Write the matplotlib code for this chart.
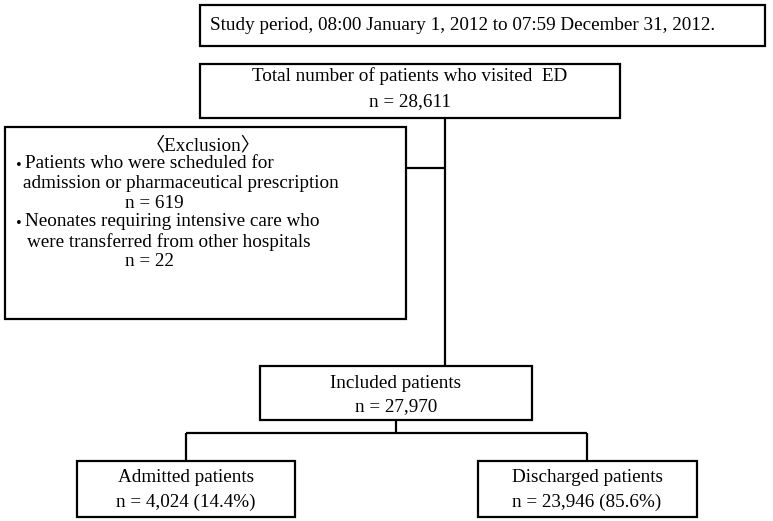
import matplotlib.pyplot as plt
from matplotlib.patches import Rectangle

plt.rcParams['font.family'] = ['Liberation Serif', 'Noto Sans CJK JP']

# text of the flowchart
study_text = 'Study period, 08:00 January 1, 2012 to 07:59 December 31, 2012.'
total_lines = ['Total number of patients who visited  ED', 'n = 28,611']
included_lines = ['Included patients', 'n = 27,970']
admitted_lines = ['Admitted patients', 'n = 4,024 (14.4%)']
discharged_lines = ['Discharged patients', 'n = 23,946 (85.6%)']
exclusion_title = '〈Exclusion〉'
# (text, left x, bullet?)
exclusion_lines = [
    ('Patients who were scheduled for', 25, True),
    ('admission or pharmaceutical prescription', 23, False),
    ('n = 619', 125, False),
    ('Neonates requiring intensive care who', 25, True),
    ('were transferred from other hospitals', 27, False),
    ('n = 22', 125, False),
]
exclusion_y = [164, 183, 203, 222, 242, 262]

W, H = 773, 521
fig = plt.figure(figsize=(W / 100, H / 100), dpi=100)
ax = fig.add_axes([0, 0, 1, 1])
ax.set_xlim(0, W)
ax.set_ylim(H, 0)
ax.axis('off')

FS = 13.8
LW = 1.6


def box(x0, y0, x1, y1):
    ax.add_patch(Rectangle((x0, y0), x1 - x0, y1 - y0, fill=False,
                           edgecolor='black', lw=LW))


def line(xs, ys):
    ax.plot(xs, ys, color='black', lw=LW, solid_capstyle='butt')


def centered(lines, cx, ys):
    for t, y in zip(lines, ys):
        ax.text(cx, y, t, ha='center', va='center', fontsize=FS)


# study period
box(200, 5, 765, 46)
ax.text(210, 26, study_text, ha='left', va='center', fontsize=FS)

# total
box(200, 64, 620, 118)
centered(total_lines, 410, [76, 102])

# exclusion
box(5, 127, 406, 319)
ax.text(203, 145, exclusion_title, ha='center', va='center', fontsize=FS)
for (t, x, bullet), y in zip(exclusion_lines, exclusion_y):
    if bullet:
        ax.text(23, y + 2, '·', ha='right', va='center', fontsize=FS * 1.2,
                fontweight='bold')
    ax.text(x, y, t, ha='left', va='center', fontsize=FS)

# connectors
line([445, 445], [118, 366])
line([406, 445], [168, 168])

# included
box(260, 366, 532, 420)
centered(included_lines, 396, [383, 407])

line([396, 396], [420, 433])
line([186, 587], [433, 433])
line([186, 186], [433, 461])
line([587, 587], [433, 461])

# admitted / discharged
box(77, 461, 295, 517)
centered(admitted_lines, 186, [478, 502])
box(478, 461, 697, 517)
centered(discharged_lines, 587, [478, 502])

fig.savefig('out.png', dpi=100)
